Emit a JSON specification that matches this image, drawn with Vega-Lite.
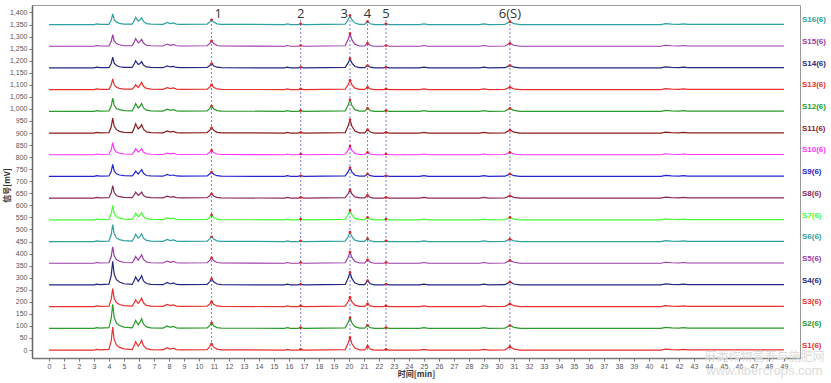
{
"$schema": "https://vega.github.io/schema/vega-lite/v6.json",
"width": 768, "height": 353,
"autosize": {"type": "none"},
"padding": {"left": 32, "top": 5, "right": 31, "bottom": 25},
"background": "white",
"config": {"font": "Liberation Sans", "view": {"stroke": "#9a9a9a", "strokeWidth": 1},
"axis": {"labelOverlap": false, "labelFontSize": 7, "labelColor": "#555", "tickSize": 3, "tickColor": "#777", "grid": false, "titleFont": "Noto Sans CJK SC", "titleFontSize": 8, "titleFontWeight": "bold", "titleColor": "#333", "labelFlush": false, "labelBound": false},
"axisX": {"domainColor": "#777", "domainWidth": 1.5, "labelPadding": 1, "titlePadding": 1},
"axisY": {"domainColor": "#666", "domainWidth": 1.5, "labelPadding": 2, "titleX": -21, "titleY": 180}},
"datasets": {
"traces": [
{"t":0,"S1":0,"S2":90,"S3":180,"S4":270,"S5":360,"S6":450,"S7":540,"S8":630,"S9":720,"S10":810,"S11":900,"S12":990,"S13":1080,"S14":1170,"S15":1260,"S16":1350},
{"t":3.0,"S1":0,"S2":90,"S3":180,"S4":270,"S5":360,"S6":450,"S7":540,"S8":630,"S9":720,"S10":810,"S11":900,"S12":990,"S13":1080,"S14":1170,"S15":1260,"S16":1350},
{"t":3.2,"S1":3,"S2":93,"S3":183,"S4":273,"S5":363,"S6":453,"S7":543,"S8":633,"S9":723,"S10":813,"S11":903,"S12":993,"S13":1083,"S14":1173,"S15":1263,"S16":1353},
{"t":3.4,"S1":1,"S2":91,"S3":181,"S4":271,"S5":361,"S6":451,"S7":541,"S8":631,"S9":721,"S10":811,"S11":901,"S12":991,"S13":1081,"S14":1171,"S15":1261,"S16":1351},
{"t":4.0,"S1":3,"S2":93,"S3":182,"S4":273,"S5":362,"S6":452,"S7":542,"S8":632,"S9":722,"S10":812,"S11":902,"S12":992,"S13":1081,"S14":1171,"S15":1261,"S16":1351},
{"t":4.15,"S1":38,"S2":130,"S3":210,"S4":309,"S5":387,"S6":478,"S7":564,"S8":651,"S9":740,"S10":830,"S11":925,"S12":1012,"S13":1098,"S14":1188,"S15":1279,"S16":1368},
{"t":4.25,"S1":95,"S2":190,"S3":255,"S4":368,"S5":428,"S6":520,"S7":600,"S8":682,"S9":770,"S10":860,"S11":962,"S12":1045,"S13":1125,"S14":1215,"S15":1308,"S16":1394},
{"t":4.35,"S1":43,"S2":135,"S3":214,"S4":314,"S5":391,"S6":482,"S7":567,"S8":653,"S9":743,"S10":833,"S11":928,"S12":1015,"S13":1100,"S14":1190,"S15":1282,"S16":1370},
{"t":4.5,"S1":21,"S2":112,"S3":197,"S4":292,"S5":375,"S6":465,"S7":553,"S8":641,"S9":731,"S10":821,"S11":914,"S12":1002,"S13":1090,"S14":1180,"S15":1271,"S16":1360},
{"t":4.7,"S1":11,"S2":102,"S3":189,"S4":282,"S5":368,"S6":458,"S7":547,"S8":636,"S9":726,"S10":816,"S11":907,"S12":997,"S13":1085,"S14":1175,"S15":1266,"S16":1355},
{"t":5.0,"S1":5,"S2":95,"S3":184,"S4":275,"S5":363,"S6":454,"S7":543,"S8":633,"S9":723,"S10":813,"S11":903,"S12":993,"S13":1082,"S14":1172,"S15":1262,"S16":1352},
{"t":5.55,"S1":2,"S2":92,"S3":182,"S4":272,"S5":362,"S6":452,"S7":542,"S8":632,"S9":722,"S10":812,"S11":902,"S12":992,"S13":1082,"S14":1172,"S15":1262,"S16":1352},
{"t":5.7,"S1":21,"S2":110,"S3":197,"S4":290,"S5":377,"S6":468,"S7":557,"S8":645,"S9":733,"S10":825,"S11":923,"S12":1009,"S13":1092,"S14":1188,"S15":1279,"S16":1368},
{"t":5.78,"S1":35,"S2":123,"S3":208,"S4":303,"S5":388,"S6":480,"S7":568,"S8":655,"S9":742,"S10":835,"S11":938,"S12":1022,"S13":1100,"S14":1200,"S15":1292,"S16":1380},
{"t":5.95,"S1":16,"S2":105,"S3":193,"S4":285,"S5":373,"S6":464,"S7":553,"S8":641,"S9":730,"S10":821,"S11":917,"S12":1004,"S13":1089,"S14":1184,"S15":1274,"S16":1364},
{"t":6.08,"S1":28,"S2":118,"S3":205,"S4":297,"S5":385,"S6":472,"S7":561,"S8":648,"S9":740,"S10":828,"S11":925,"S12":1012,"S13":1101,"S14":1188,"S15":1280,"S16":1370},
{"t":6.18,"S1":40,"S2":130,"S3":215,"S4":308,"S5":395,"S6":482,"S7":570,"S8":655,"S9":748,"S10":835,"S11":935,"S12":1022,"S13":1110,"S14":1196,"S15":1288,"S16":1378},
{"t":6.3,"S1":18,"S2":108,"S3":196,"S4":287,"S5":376,"S6":464,"S7":554,"S8":641,"S9":733,"S10":821,"S11":916,"S12":1004,"S13":1094,"S14":1182,"S15":1273,"S16":1363},
{"t":6.5,"S1":6,"S2":96,"S3":185,"S4":276,"S5":365,"S6":455,"S7":545,"S8":634,"S9":724,"S10":814,"S11":905,"S12":995,"S13":1085,"S14":1174,"S15":1264,"S16":1354},
{"t":6.8,"S1":2,"S2":92,"S3":182,"S4":272,"S5":362,"S6":452,"S7":542,"S8":632,"S9":722,"S10":812,"S11":902,"S12":992,"S13":1082,"S14":1172,"S15":1262,"S16":1352},
{"t":7.6,"S1":1,"S2":91,"S3":181,"S4":271,"S5":361,"S6":451,"S7":541,"S8":631,"S9":721,"S10":811,"S11":901,"S12":991,"S13":1081,"S14":1171,"S15":1261,"S16":1351},
{"t":7.89,"S1":10,"S2":100,"S3":189,"S4":280,"S5":369,"S6":459,"S7":548,"S8":638,"S9":728,"S10":817,"S11":909,"S12":999,"S13":1088,"S14":1178,"S15":1269,"S16":1359},
{"t":8.08,"S1":4,"S2":94,"S3":184,"S4":274,"S5":364,"S6":454,"S7":544,"S8":634,"S9":724,"S10":814,"S11":904,"S12":994,"S13":1084,"S14":1174,"S15":1264,"S16":1354},
{"t":8.29,"S1":8,"S2":98,"S3":187,"S4":278,"S5":368,"S6":457,"S7":547,"S8":636,"S9":726,"S10":816,"S11":907,"S12":997,"S13":1087,"S14":1176,"S15":1267,"S16":1357},
{"t":8.5,"S1":2,"S2":92,"S3":182,"S4":272,"S5":362,"S6":452,"S7":542,"S8":632,"S9":722,"S10":812,"S11":902,"S12":992,"S13":1082,"S14":1172,"S15":1262,"S16":1352},
{"t":8.8,"S1":1,"S2":91,"S3":181,"S4":271,"S5":361,"S6":451,"S7":541,"S8":631,"S9":721,"S10":811,"S11":901,"S12":991,"S13":1081,"S14":1171,"S15":1261,"S16":1351},
{"t":10.55,"S1":2,"S2":92,"S3":182,"S4":272,"S5":362,"S6":452,"S7":542,"S8":632,"S9":722,"S10":812,"S11":902,"S12":992,"S13":1082,"S14":1172,"S15":1262,"S16":1352},
{"t":10.72,"S1":14,"S2":102,"S3":191,"S4":284,"S5":372,"S6":461,"S7":551,"S8":640,"S9":730,"S10":820,"S11":912,"S12":1002,"S13":1091,"S14":1180,"S15":1272,"S16":1361},
{"t":10.84,"S1":25,"S2":112,"S3":200,"S4":295,"S5":382,"S6":470,"S7":560,"S8":648,"S9":738,"S10":828,"S11":922,"S12":1012,"S13":1100,"S14":1188,"S15":1282,"S16":1370},
{"t":10.98,"S1":13,"S2":101,"S3":190,"S4":283,"S5":371,"S6":460,"S7":550,"S8":639,"S9":729,"S10":819,"S11":911,"S12":1001,"S13":1090,"S14":1179,"S15":1271,"S16":1360},
{"t":11.2,"S1":4,"S2":93,"S3":183,"S4":274,"S5":363,"S6":453,"S7":543,"S8":633,"S9":723,"S10":813,"S11":903,"S12":993,"S13":1083,"S14":1173,"S15":1263,"S16":1353},
{"t":11.5,"S1":1,"S2":91,"S3":181,"S4":271,"S5":361,"S6":451,"S7":541,"S8":631,"S9":721,"S10":811,"S11":901,"S12":991,"S13":1081,"S14":1171,"S15":1261,"S16":1351},
{"t":15.7,"S1":0,"S2":90,"S3":180,"S4":270,"S5":360,"S6":450,"S7":540,"S8":630,"S9":720,"S10":810,"S11":900,"S12":990,"S13":1080,"S14":1170,"S15":1260,"S16":1350},
{"t":15.9,"S1":3,"S2":93,"S3":183,"S4":273,"S5":363,"S6":453,"S7":543,"S8":633,"S9":723,"S10":813,"S11":903,"S12":993,"S13":1083,"S14":1173,"S15":1263,"S16":1353},
{"t":16.1,"S1":0,"S2":90,"S3":180,"S4":270,"S5":360,"S6":450,"S7":540,"S8":630,"S9":720,"S10":810,"S11":900,"S12":990,"S13":1080,"S14":1170,"S15":1260,"S16":1350},
{"t":16.6,"S1":0,"S2":90,"S3":180,"S4":270,"S5":360,"S6":450,"S7":540,"S8":630,"S9":720,"S10":810,"S11":900,"S12":990,"S13":1080,"S14":1170,"S15":1260,"S16":1350},
{"t":16.78,"S1":3,"S2":93,"S3":183,"S4":273,"S5":363,"S6":453,"S7":543,"S8":633,"S9":723,"S10":813,"S11":903,"S12":993,"S13":1083,"S14":1173,"S15":1263,"S16":1353},
{"t":17.0,"S1":0,"S2":90,"S3":180,"S4":270,"S5":360,"S6":450,"S7":540,"S8":630,"S9":720,"S10":810,"S11":900,"S12":990,"S13":1080,"S14":1170,"S15":1260,"S16":1350},
{"t":19.75,"S1":2,"S2":92,"S3":182,"S4":272,"S5":362,"S6":452,"S7":542,"S8":632,"S9":722,"S10":812,"S11":902,"S12":992,"S13":1082,"S14":1172,"S15":1262,"S16":1352},
{"t":19.95,"S1":29,"S2":114,"S3":201,"S4":299,"S5":385,"S6":471,"S7":561,"S8":649,"S9":740,"S10":830,"S11":930,"S12":1016,"S13":1101,"S14":1191,"S15":1289,"S16":1370},
{"t":20.07,"S1":52,"S2":134,"S3":219,"S4":322,"S5":406,"S6":489,"S7":579,"S8":665,"S9":756,"S10":846,"S11":955,"S12":1038,"S13":1119,"S14":1209,"S15":1312,"S16":1387},
{"t":20.2,"S1":26,"S2":112,"S3":200,"S4":296,"S5":383,"S6":470,"S7":560,"S8":648,"S9":738,"S10":828,"S11":928,"S12":1014,"S13":1100,"S14":1190,"S15":1286,"S16":1369},
{"t":20.4,"S1":8,"S2":97,"S3":186,"S4":278,"S5":367,"S6":456,"S7":546,"S8":635,"S9":725,"S10":815,"S11":908,"S12":997,"S13":1086,"S14":1176,"S15":1268,"S16":1356},
{"t":20.7,"S1":1,"S2":91,"S3":181,"S4":271,"S5":361,"S6":451,"S7":541,"S8":631,"S9":721,"S10":811,"S11":901,"S12":991,"S13":1081,"S14":1171,"S15":1261,"S16":1351},
{"t":21.05,"S1":1,"S2":91,"S3":181,"S4":271,"S5":361,"S6":451,"S7":541,"S8":631,"S9":721,"S10":811,"S11":901,"S12":991,"S13":1081,"S14":1171,"S15":1261,"S16":1351},
{"t":21.24,"S1":15,"S2":103,"S3":192,"S4":288,"S5":374,"S6":462,"S7":550,"S8":642,"S9":730,"S10":820,"S11":914,"S12":1003,"S13":1090,"S14":1180,"S15":1272,"S16":1362},
{"t":21.42,"S1":4,"S2":93,"S3":183,"S4":275,"S5":364,"S6":453,"S7":543,"S8":633,"S9":723,"S10":813,"S11":904,"S12":993,"S13":1083,"S14":1173,"S15":1263,"S16":1353},
{"t":21.7,"S1":0,"S2":90,"S3":180,"S4":270,"S5":360,"S6":450,"S7":540,"S8":630,"S9":720,"S10":810,"S11":900,"S12":990,"S13":1080,"S14":1170,"S15":1260,"S16":1350},
{"t":22.3,"S1":0,"S2":90,"S3":180,"S4":270,"S5":360,"S6":450,"S7":540,"S8":630,"S9":720,"S10":810,"S11":900,"S12":990,"S13":1080,"S14":1170,"S15":1260,"S16":1350},
{"t":22.47,"S1":3,"S2":93,"S3":183,"S4":273,"S5":363,"S6":453,"S7":543,"S8":633,"S9":723,"S10":813,"S11":903,"S12":993,"S13":1083,"S14":1173,"S15":1263,"S16":1353},
{"t":22.7,"S1":0,"S2":90,"S3":180,"S4":270,"S5":360,"S6":450,"S7":540,"S8":630,"S9":720,"S10":810,"S11":900,"S12":990,"S13":1080,"S14":1170,"S15":1260,"S16":1350},
{"t":24.7,"S1":0,"S2":90,"S3":180,"S4":270,"S5":360,"S6":450,"S7":540,"S8":630,"S9":720,"S10":810,"S11":900,"S12":990,"S13":1080,"S14":1170,"S15":1260,"S16":1350},
{"t":25.0,"S1":3,"S2":93,"S3":183,"S4":273,"S5":363,"S6":453,"S7":543,"S8":633,"S9":723,"S10":813,"S11":903,"S12":993,"S13":1083,"S14":1173,"S15":1263,"S16":1353},
{"t":25.3,"S1":0,"S2":90,"S3":180,"S4":270,"S5":360,"S6":450,"S7":540,"S8":630,"S9":720,"S10":810,"S11":900,"S12":990,"S13":1080,"S14":1170,"S15":1260,"S16":1350},
{"t":28.7,"S1":0,"S2":90,"S3":180,"S4":270,"S5":360,"S6":450,"S7":540,"S8":630,"S9":720,"S10":810,"S11":900,"S12":990,"S13":1080,"S14":1170,"S15":1260,"S16":1350},
{"t":29.0,"S1":3,"S2":93,"S3":183,"S4":273,"S5":363,"S6":453,"S7":543,"S8":633,"S9":723,"S10":813,"S11":903,"S12":993,"S13":1083,"S14":1173,"S15":1263,"S16":1353},
{"t":29.3,"S1":0,"S2":90,"S3":180,"S4":270,"S5":360,"S6":450,"S7":540,"S8":630,"S9":720,"S10":810,"S11":900,"S12":990,"S13":1080,"S14":1170,"S15":1260,"S16":1350},
{"t":30.4,"S1":1,"S2":91,"S3":181,"S4":271,"S5":361,"S6":451,"S7":541,"S8":631,"S9":721,"S10":811,"S11":901,"S12":991,"S13":1081,"S14":1171,"S15":1261,"S16":1351},
{"t":30.73,"S1":14,"S2":102,"S3":192,"S4":282,"S5":372,"S6":460,"S7":550,"S8":640,"S9":730,"S10":820,"S11":912,"S12":1002,"S13":1090,"S14":1180,"S15":1272,"S16":1362},
{"t":31.0,"S1":4,"S2":94,"S3":184,"S4":274,"S5":364,"S6":453,"S7":543,"S8":633,"S9":723,"S10":813,"S11":904,"S12":994,"S13":1083,"S14":1173,"S15":1264,"S16":1354},
{"t":31.4,"S1":0,"S2":90,"S3":180,"S4":270,"S5":360,"S6":450,"S7":540,"S8":630,"S9":720,"S10":810,"S11":900,"S12":990,"S13":1080,"S14":1170,"S15":1260,"S16":1350},
{"t":40.8,"S1":0,"S2":90,"S3":180,"S4":270,"S5":360,"S6":450,"S7":540,"S8":630,"S9":720,"S10":810,"S11":900,"S12":990,"S13":1080,"S14":1170,"S15":1260,"S16":1350},
{"t":41.1,"S1":4,"S2":94,"S3":184,"S4":274,"S5":364,"S6":454,"S7":544,"S8":634,"S9":724,"S10":814,"S11":904,"S12":994,"S13":1084,"S14":1174,"S15":1264,"S16":1354},
{"t":41.5,"S1":2,"S2":92,"S3":182,"S4":272,"S5":362,"S6":452,"S7":542,"S8":632,"S9":722,"S10":812,"S11":902,"S12":992,"S13":1082,"S14":1172,"S15":1262,"S16":1352},
{"t":42.0,"S1":1,"S2":91,"S3":181,"S4":271,"S5":361,"S6":451,"S7":541,"S8":631,"S9":721,"S10":811,"S11":901,"S12":991,"S13":1081,"S14":1171,"S15":1261,"S16":1351},
{"t":42.3,"S1":3,"S2":93,"S3":183,"S4":273,"S5":363,"S6":453,"S7":543,"S8":633,"S9":723,"S10":813,"S11":903,"S12":993,"S13":1083,"S14":1173,"S15":1263,"S16":1353},
{"t":42.6,"S1":1,"S2":91,"S3":181,"S4":271,"S5":361,"S6":451,"S7":541,"S8":631,"S9":721,"S10":811,"S11":901,"S12":991,"S13":1081,"S14":1171,"S15":1261,"S16":1351},
{"t":49,"S1":1,"S2":91,"S3":181,"S4":271,"S5":361,"S6":451,"S7":541,"S8":631,"S9":721,"S10":811,"S11":901,"S12":991,"S13":1081,"S14":1171,"S15":1261,"S16":1351}
],
"peaks": [
{"pk":"1","t":10.84},{"pk":"2","t":16.78},{"pk":"3","t":20.07},{"pk":"4","t":21.24},{"pk":"5","t":22.47},{"pk":"6(S)","t":30.73}
]
},
"encoding": {
"x": {"field": "t", "type": "quantitative",
"scale": {"domain": [-1.13, 50.07], "nice": false, "zero": false},
"axis": {"title": "时间[min]", "values": [0,1,2,3,4,5,6,7,8,9,10,11,12,13,14,15,16,17,18,19,20,21,22,23,24,25,26,27,28,29,30,31,32,33,34,35,36,37,38,39,40,41,42,43,44,45,46,47,48,49], "labelExpr": "format(datum.value, 'd')", "labelOverlap": false}}
},
"layer": [
{
"data": {"name": "traces"},
"transform": [{"fold": ["S1","S2","S3","S4","S5","S6","S7","S8","S9","S10","S11","S12","S13","S14","S15","S16"], "as": ["s","v"]}],
"mark": {"type": "line", "strokeWidth": 1.2},
"encoding": {
"y": {"field": "v", "type": "quantitative",
"scale": {"domain": [-33, 1431], "nice": false, "zero": false},
"axis": {"title": "信号[mV]", "values": [0,50,100,150,200,250,300,350,400,450,500,550,600,650,700,750,800,850,900,950,1000,1050,1100,1150,1200,1250,1300,1350,1400], "labelExpr": "format(datum.value, ',')", "labelOverlap": false}},
"color": {"field": "s", "type": "nominal",
"scale": {"domain": ["S1","S2","S3","S4","S5","S6","S7","S8","S9","S10","S11","S12","S13","S14","S15","S16"],
"range": ["#e8312f","#2a9a2a","#e8312f","#262682","#9a3aa8","#2ea0a0","#44ff33","#8a2a5a","#2424d0","#ff33ff","#8a1e1e","#2a9a2a","#e8312f","#262682","#9a3aa8","#2ea0a0"]},
"legend": null}
}
},
{
"data": {"name": "peaks"},
"mark": {"type": "rule", "color": "#6f6fd6", "strokeDash": [2, 2], "strokeWidth": 0.9},
"encoding": {"y": {"datum": 0, "type": "quantitative", "axis": {"title": "信号[mV]", "values": [0,50,100,150,200,250,300,350,400,450,500,550,600,650,700,750,800,850,900,950,1000,1050,1100,1150,1200,1250,1300,1350,1400], "labelExpr": "format(datum.value, ',')", "labelOverlap": false}}, "y2": {"datum": 1372}}
},
{
"data": {"name": "traces"},
"transform": [{"fold": ["S1","S2","S3","S4","S5","S6","S7","S8","S9","S10","S11","S12","S13","S14","S15","S16"], "as": ["s","v"]},
{"filter": {"field": "t", "oneOf": [10.84, 16.78, 20.07, 21.24, 22.47, 30.73]}}],
"mark": {"type": "point", "filled": true, "color": "#e02020", "size": 7, "opacity": 1},
"encoding": {"y": {"field": "v", "type": "quantitative", "axis": {"title": "信号[mV]", "values": [0,50,100,150,200,250,300,350,400,450,500,550,600,650,700,750,800,850,900,950,1000,1050,1100,1150,1200,1250,1300,1350,1400], "labelExpr": "format(datum.value, ',')", "labelOverlap": false}}}
},
{
"data": {"name": "traces"},
"transform": [{"fold": ["S1","S2","S3","S4","S5","S6","S7","S8","S9","S10","S11","S12","S13","S14","S15","S16"], "as": ["s","v"]},
{"filter": "datum.t == 49"}, {"calculate": "datum.s + '(6)'", "as": "lab"}],
"mark": {"type": "text", "align": "left", "baseline": "middle", "dx": 18, "dy": -4, "fontSize": 8, "fontWeight": "bold"},
"encoding": {"y": {"field": "v", "type": "quantitative", "axis": {"title": "信号[mV]", "values": [0,50,100,150,200,250,300,350,400,450,500,550,600,650,700,750,800,850,900,950,1000,1050,1100,1150,1200,1250,1300,1350,1400], "labelExpr": "format(datum.value, ',')", "labelOverlap": false}}, "text": {"field": "lab"},
"color": {"field": "s", "type": "nominal", "legend": null}}
},
{
"data": {"name": "peaks"},
"transform": [{"filter": "datum.pk == '1'"}],
"mark": {"type": "text", "align": "left", "baseline": "middle", "dx": 3, "font": "Open Sans", "fontSize": 13, "color": "#333"},
"encoding": {"y": {"datum": 1392, "type": "quantitative", "axis": {"title": "信号[mV]", "values": [0,50,100,150,200,250,300,350,400,450,500,550,600,650,700,750,800,850,900,950,1000,1050,1100,1150,1200,1250,1300,1350,1400], "labelExpr": "format(datum.value, ',')", "labelOverlap": false}}, "text": {"field": "pk"}}
},
{
"data": {"name": "peaks"},
"transform": [{"filter": "datum.pk == '3'"}],
"mark": {"type": "text", "align": "right", "baseline": "middle", "dx": -2, "font": "Open Sans", "fontSize": 13, "color": "#333"},
"encoding": {"y": {"datum": 1392, "type": "quantitative", "axis": {"title": "信号[mV]", "values": [0,50,100,150,200,250,300,350,400,450,500,550,600,650,700,750,800,850,900,950,1000,1050,1100,1150,1200,1250,1300,1350,1400], "labelExpr": "format(datum.value, ',')", "labelOverlap": false}}, "text": {"field": "pk"}}
},
{
"data": {"name": "peaks"},
"transform": [{"filter": "datum.pk != '1' && datum.pk != '3'"}],
"mark": {"type": "text", "align": "center", "baseline": "middle", "font": "Open Sans", "fontSize": 13, "color": "#333"},
"encoding": {"y": {"datum": 1392, "type": "quantitative", "axis": {"title": "信号[mV]", "values": [0,50,100,150,200,250,300,350,400,450,500,550,600,650,700,750,800,850,900,950,1000,1050,1100,1150,1200,1250,1300,1350,1400], "labelExpr": "format(datum.value, ',')", "labelOverlap": false}}, "text": {"field": "pk"}}
},
{
"data": {"values": [{"w": "麻类作物营养与施肥网", "t": 47.7}]},
"mark": {"type": "text", "align": "center", "baseline": "middle", "font": "Noto Sans CJK SC", "fontSize": 12, "color": "#dcdcdc"},
"encoding": {"y": {"datum": -30, "type": "quantitative", "axis": {"title": "信号[mV]", "values": [0,50,100,150,200,250,300,350,400,450,500,550,600,650,700,750,800,850,900,950,1000,1050,1100,1150,1200,1250,1300,1350,1400], "labelExpr": "format(datum.value, ',')", "labelOverlap": false}}, "text": {"field": "w"}}
},
{
"data": {"values": [{"w": "www.fibercrops.com", "t": 47.7}]},
"mark": {"type": "text", "align": "center", "baseline": "middle", "font": "Liberation Sans", "fontSize": 13, "color": "#dcdcdc"},
"encoding": {"y": {"datum": -88, "type": "quantitative", "axis": {"title": "信号[mV]", "values": [0,50,100,150,200,250,300,350,400,450,500,550,600,650,700,750,800,850,900,950,1000,1050,1100,1150,1200,1250,1300,1350,1400], "labelExpr": "format(datum.value, ',')", "labelOverlap": false}}, "text": {"field": "w"}}
}
]
}
